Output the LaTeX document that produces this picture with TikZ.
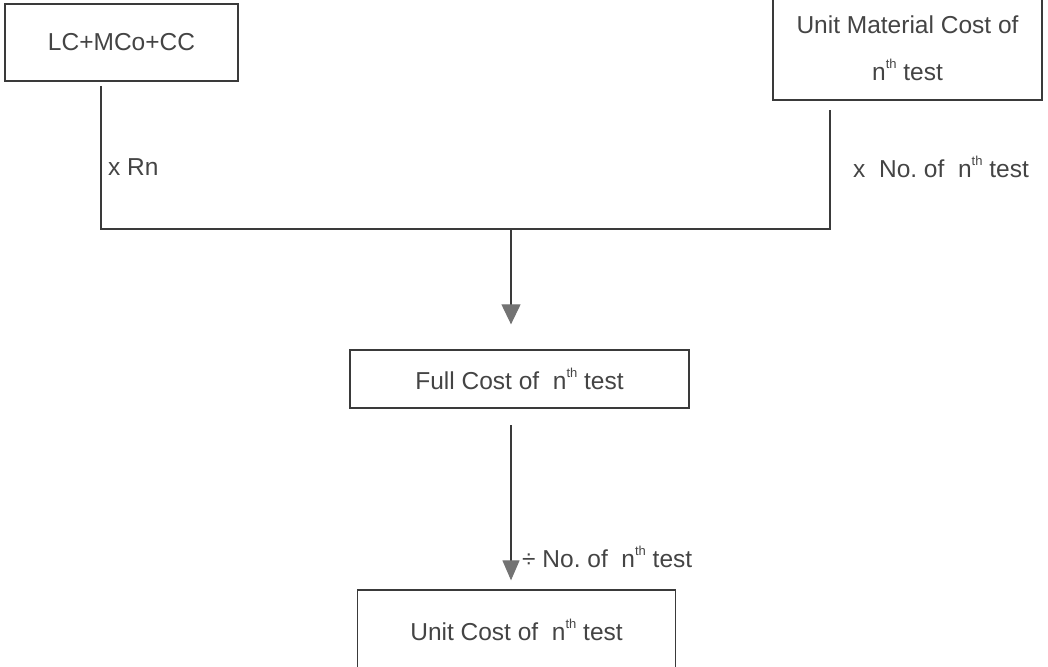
\documentclass[tikz,border=0pt]{standalone}
\usepackage{fontspec}
\setmainfont{Liberation Sans}
\usetikzlibrary{arrows.meta}
\frenchspacing
\newcommand{\thsup}{\raisebox{0.5em}{\fontsize{13}{13}\selectfont th}}
\definecolor{ink}{HTML}{3A3A3A}
\definecolor{txt}{HTML}{444444}
\begin{document}
\begin{tikzpicture}[x=1pt,y=-1pt,
  box/.style={draw=ink,line width=1.3pt,text=txt,inner sep=0pt},
  lbl/.style={text=txt,inner sep=0pt,anchor=west},
  wire/.style={draw=ink,line width=1.2pt},
  arr/.style={draw=ink,line width=1.2pt,-{Triangle[width=19pt,length=20pt,color=black!55]}},
  arrb/.style={draw=ink,line width=1.2pt,-{Triangle[width=17pt,length=20pt,color=black!55]}},
  every node/.style={font=\fontsize{24.5}{28}\selectfont}]
\useasboundingbox (0,0) rectangle (1048,666);
\clip (0,0) rectangle (1048,666);
\node[box,minimum width=233pt,minimum height=77pt] (lc) at (121.5,42.5) {LC+MCo+CC};
\node[box,minimum width=269pt,minimum height=104pt,align=center,
  font=\fontsize{24.5}{51}\selectfont] (umc) at (907.5,48) {Unit Material Cost of\\[-4pt] n\thsup{} test};
\node[box,minimum width=339pt,minimum height=58pt] (full) at (519.5,379) {Full Cost of\ \ n\thsup{} test};
\node[box,minimum width=318pt,minimum height=80pt] (unit) at (516.5,630) {Unit Cost of\ \ n\thsup{} test};
\coordinate (lt) at (101,86);
\coordinate (lb) at (101,229);
\coordinate (rt) at (830,110);
\coordinate (rb) at (830,229);
\coordinate (j) at (511,229);
\coordinate (fa) at (511,425);
\draw[wire] (lt) -- (lb) -- (rb) -- (rt);
\draw[arr,shorten >=25pt] (j) -- (full.north -| j);
\draw[arrb,shorten >=9pt] (fa) -- (unit.north -| fa);
\node[lbl] (l1) at (108,167) {x Rn};
\node[lbl] (l2) at (853,167) {x\ \ No. of\ \ n\thsup{} test};
\node[lbl] (l3) at (522,557) {÷ No. of\ \ n\thsup{} test};
\end{tikzpicture}
\end{document}
